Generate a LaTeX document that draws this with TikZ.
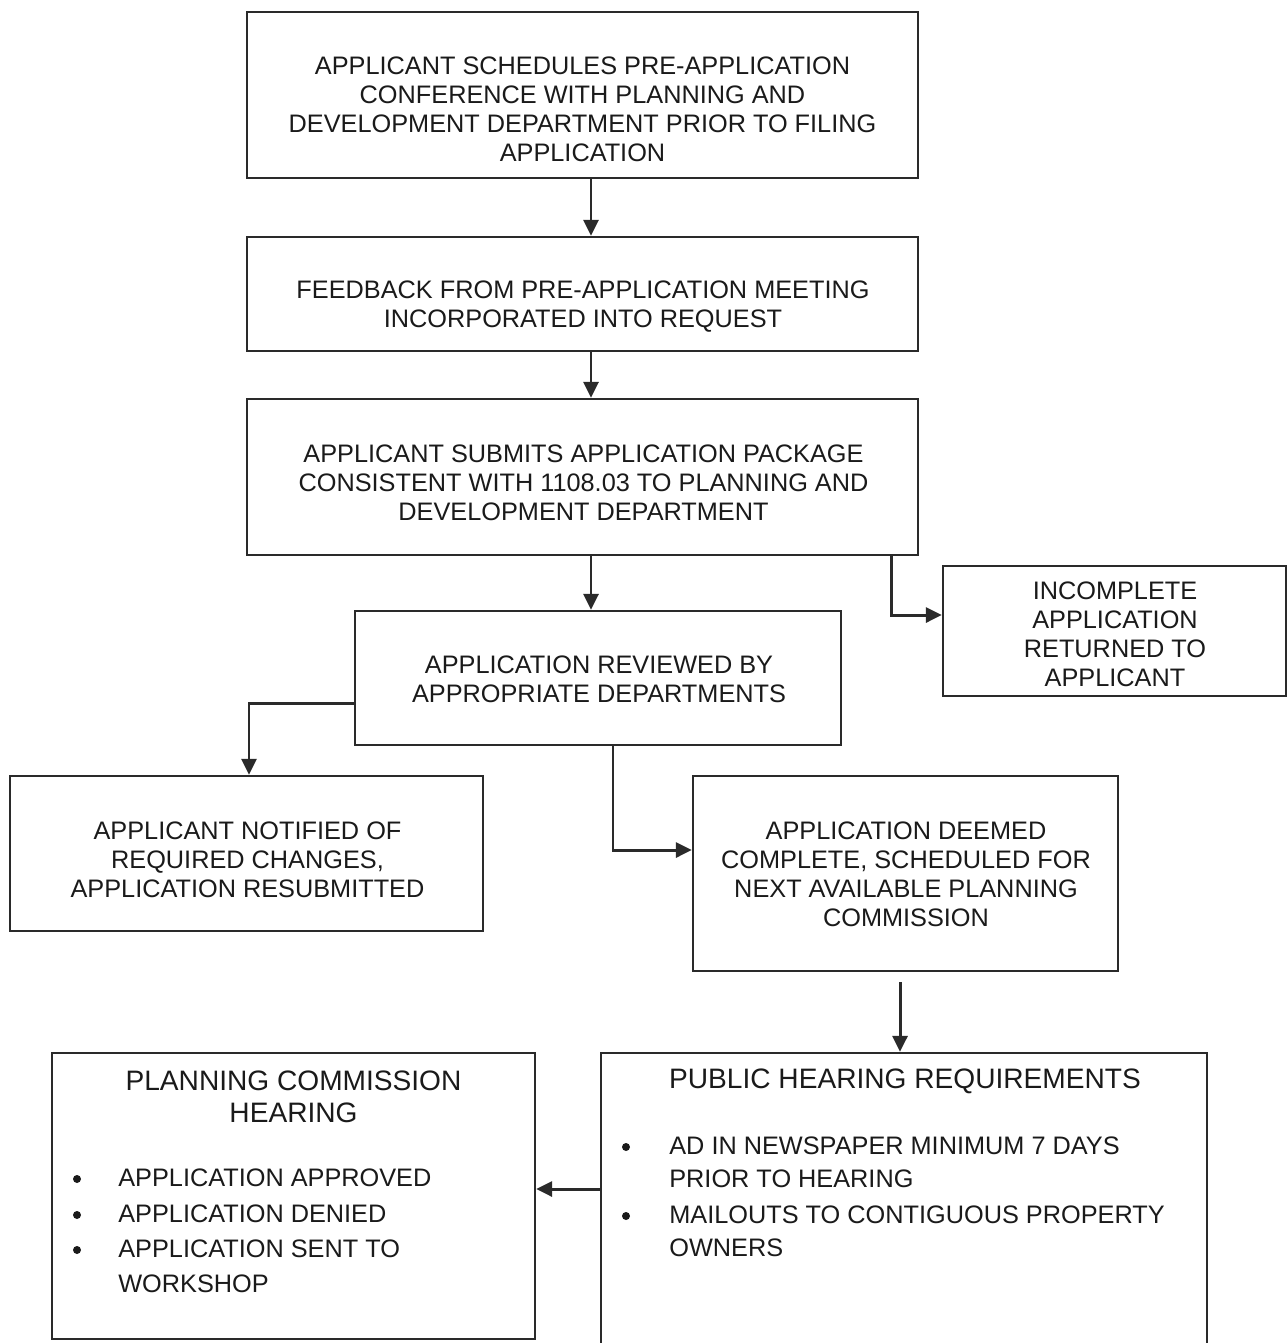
\documentclass[tikz,border=0pt]{standalone}
\usepackage{fontspec}
\setmainfont{Liberation Sans}
\usetikzlibrary{arrows.meta}
\def\px{0.02cm}
\definecolor{linec}{HTML}{2A2A2A}
\definecolor{txtc}{HTML}{1A1A1A}
\begin{document}
\begin{tikzpicture}[x=0.02cm,y=-0.02cm,
  box/.style={draw=linec,line width=1.3pt,inner sep=0pt},
  txt/.style={text=txtc,align=center,inner sep=0pt,font=\fontsize{14.4}{16.5}\selectfont},
  head/.style={text=txtc,align=center,inner sep=0pt,font=\fontsize{16}{18.2}\selectfont},
  item/.style={text=txtc,align=left,inner sep=0pt,anchor=west},
  bul/.style={circle,fill=txtc,inner sep=0pt,minimum size=8*\px},
  arr/.style={draw=linec,line width=1.7pt,-{Triangle[length=0.32cm,width=0.3cm]}}]
\useasboundingbox[fill=white] (0,0) rectangle (1287,1343);

% boxes
\node[box,minimum width=671*\px,minimum height=166*\px] (b1) at (582.5,95) {};
\node[box,minimum width=671*\px,minimum height=114*\px] (b2) at (582.5,294) {};
\node[box,minimum width=671*\px,minimum height=156*\px] (b3) at (582.5,477) {};
\node[box,minimum width=343*\px,minimum height=130*\px] (b4) at (1114.5,631) {};
\node[box,minimum width=486*\px,minimum height=134*\px] (b5) at (598,678) {};
\node[box,minimum width=473*\px,minimum height=155*\px] (b6) at (246.5,853.5) {};
\node[box,minimum width=425*\px,minimum height=195*\px] (b7) at (905.5,873.5) {};
\node[box,minimum width=483*\px,minimum height=286*\px] (b8) at (293.5,1196) {};
\node[box,minimum width=606*\px,minimum height=300*\px] (b9) at (904,1203) {};

% texts
\node[txt] (t1) at (582.5,109.5) {APPLICANT SCHEDULES PRE-APPLICATION\\CONFERENCE WITH PLANNING AND\\DEVELOPMENT DEPARTMENT PRIOR TO FILING\\APPLICATION};
\node[txt] (t2) at (583,306.5) {FEEDBACK FROM PRE-APPLICATION MEETING\\INCORPORATED INTO REQUEST};
\node[txt] (t3) at (583.5,482.5) {APPLICANT SUBMITS APPLICATION PACKAGE\\CONSISTENT WITH 1108.03 TO PLANNING AND\\DEVELOPMENT DEPARTMENT};
\node[txt] (t4) at (1115,634.5) {INCOMPLETE\\APPLICATION\\RETURNED TO\\APPLICANT};
\node[txt] (t5) at (599,679.5) {APPLICATION REVIEWED BY\\APPROPRIATE DEPARTMENTS};
\node[txt] (t6) at (247.5,860) {APPLICANT NOTIFIED OF\\REQUIRED CHANGES,\\APPLICATION RESUBMITTED};
\node[txt] (t7) at (906,874.5) {APPLICATION DEEMED\\COMPLETE, SCHEDULED FOR\\NEXT AVAILABLE PLANNING\\COMMISSION};

\node[head] (h8) at (293.5,1097) {PLANNING COMMISSION\\HEARING};
\node[bul] (d81) at (77,1179) {};
\node[bul] (d82) at (77,1215) {};
\node[bul] (d83) at (77,1250) {};
\node[item,font=\fontsize{14.4}{19.8}\selectfont] (i81) at (118,1178) {APPLICATION APPROVED};
\node[item,font=\fontsize{14.4}{19.8}\selectfont] (i82) at (118,1214) {APPLICATION DENIED};
\node[item,font=\fontsize{14.4}{19.8}\selectfont] (i83) at (118,1266) {APPLICATION SENT TO\\WORKSHOP};

\node[head] (h9) at (905,1081) {PUBLIC HEARING REQUIREMENTS};
\node[bul] (d91) at (626,1147) {};
\node[bul] (d92) at (626,1216) {};
\node[item,font=\fontsize{14.4}{18.7}\selectfont] (i91) at (669,1162.5) {AD IN NEWSPAPER MINIMUM 7 DAYS\\PRIOR TO HEARING};
\node[item,font=\fontsize{14.4}{18.7}\selectfont] (i92) at (669,1231.5) {MAILOUTS TO CONTIGUOUS PROPERTY\\OWNERS};

% connectors
\draw[arr] ([xshift=8.5*\px]b1.south) -- ([xshift=8.5*\px]b1.south |- b2.north);
\draw[arr] ([xshift=8.5*\px]b2.south) -- ([xshift=8.5*\px]b2.south |- b3.north);
\draw[arr] ([xshift=8.5*\px]b3.south) -- ([xshift=8.5*\px]b3.south |- b5.north);
\draw[arr] ([xshift=308.5*\px]b3.south) |- ([yshift=16*\px]b4.west);
\draw[arr] ([yshift=-25*\px]b5.west) -| ([xshift=2.5*\px]b6.north);
\draw[arr] ([xshift=15*\px]b5.south) |- ([yshift=23.5*\px]b7.west);
\draw[arr] ([xshift=-5.5*\px,yshift=-10*\px]b7.south) -- ([xshift=-5.5*\px]b7.south |- b9.north);
\draw[arr] ([yshift=7*\px]b8.east -| b9.west) -- ([yshift=7*\px]b8.east);
\end{tikzpicture}
\end{document}
